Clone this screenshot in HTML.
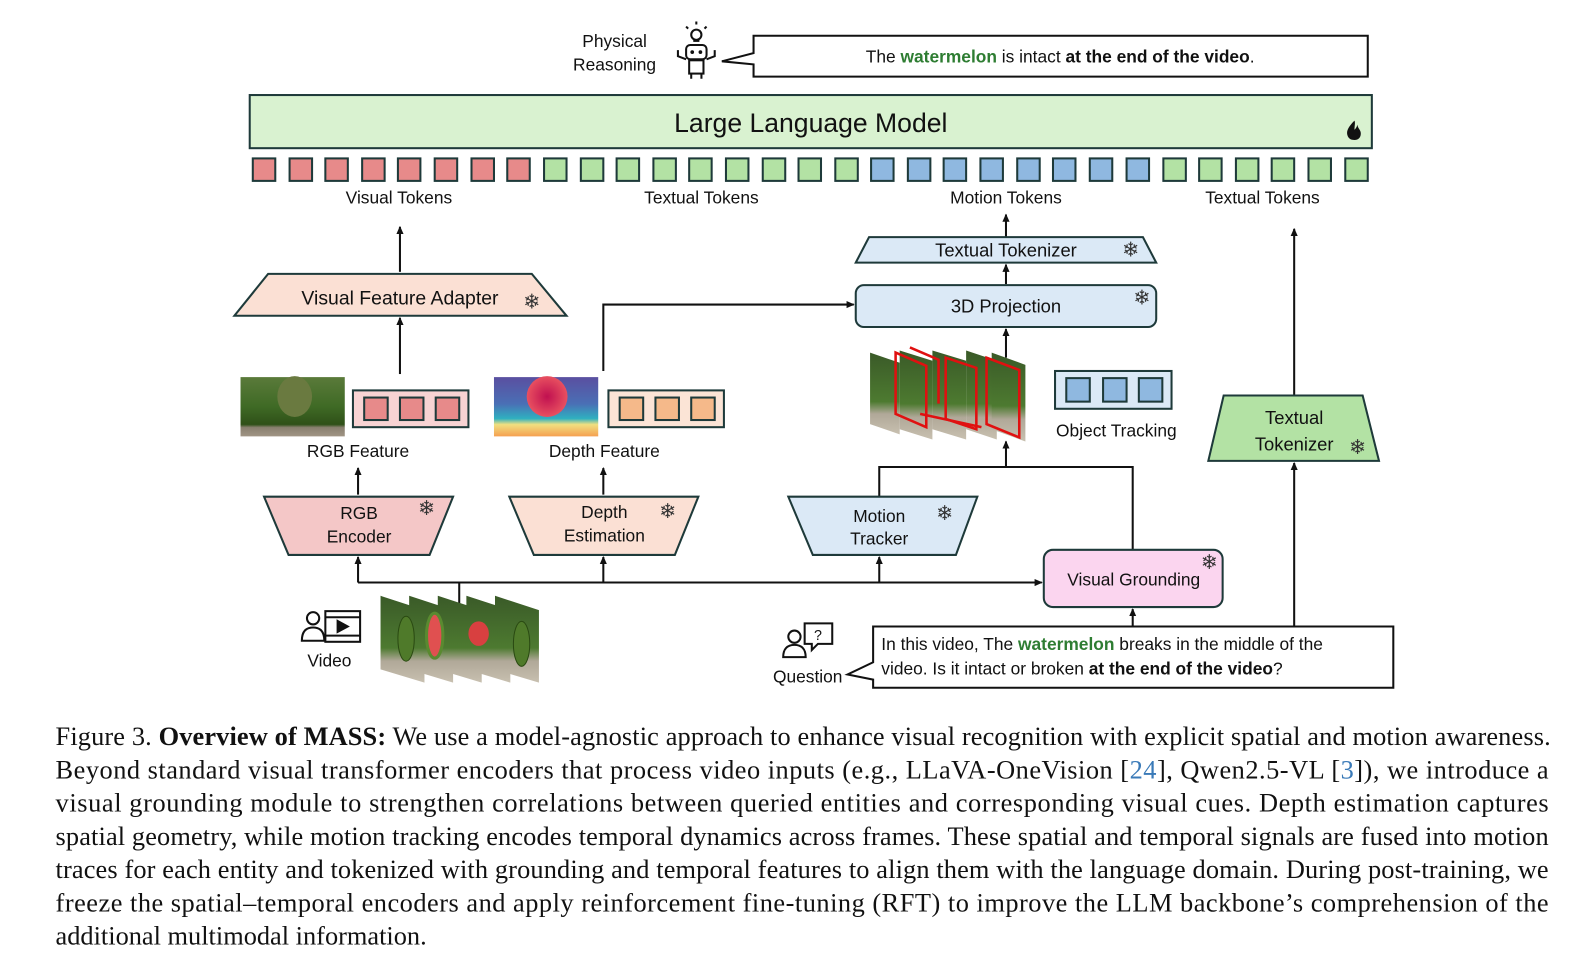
<!DOCTYPE html>
<html><head><meta charset="utf-8"><style>
html,body{margin:0;padding:0;background:#fff;width:1595px;height:977px;overflow:hidden}
svg{display:block}
.s{font-family:"Liberation Sans","DejaVu Sans",sans-serif;fill:#111}
.c{font-family:"Liberation Serif",serif;font-size:25.8px;fill:#111}
.sf{font-family:"DejaVu Sans",sans-serif;font-size:20px;fill:#333}
</style></head><body>
<svg width="1595" height="977" viewBox="0 0 1560 956" xmlns="http://www.w3.org/2000/svg">
<defs>
<marker id="a" markerWidth="8" markerHeight="8" refX="7" refY="4" orient="auto" markerUnits="userSpaceOnUse"><path d="M0,0.5 L8,4 L0,7.5z" fill="#111"/></marker>
<linearGradient id="grass" x1="0" y1="0" x2="0" y2="1"><stop offset="0" stop-color="#5a7a3a"/><stop offset="0.5" stop-color="#3f6a25"/><stop offset="0.8" stop-color="#2f5018"/><stop offset="0.85" stop-color="#8a8070"/><stop offset="1" stop-color="#a09585"/></linearGradient>
<linearGradient id="depth" x1="0" y1="0" x2="0" y2="1"><stop offset="0" stop-color="#5a4fa0"/><stop offset="0.45" stop-color="#4a6fb5"/><stop offset="0.7" stop-color="#2fb0c0"/><stop offset="0.8" stop-color="#f0e080"/><stop offset="1" stop-color="#f5a050"/></linearGradient>
<radialGradient id="ball"><stop offset="0" stop-color="#c01050"/><stop offset="1" stop-color="#e85060"/></radialGradient>
<linearGradient id="frm" x1="0" y1="0" x2="0" y2="1"><stop offset="0" stop-color="#3a5a28"/><stop offset="0.6" stop-color="#4d7a30"/><stop offset="0.75" stop-color="#b0a898"/><stop offset="1" stop-color="#c8c0b0"/></linearGradient>
</defs>

<text class="s" x="601" y="46" font-size="17" text-anchor="middle">Physical</text>
<text class="s" x="601" y="69" font-size="17" text-anchor="middle">Reasoning</text>
<g stroke="#111" stroke-width="2" fill="none">
<circle cx="681" cy="34" r="5"/><path d="M678,40h6"/><path d="M681,24v-3M673,28l-2,-2M689,28l2,-2"/>
<rect x="671" y="44" width="20" height="14" rx="4"/><rect x="674" y="59" width="14" height="13"/><path d="M671,58l-8,-3v-6M691,58l8,-3v-6M676,72v5M686,72v5"/>
</g>
<circle cx="677" cy="51" r="1.8" fill="#111"/><circle cx="685" cy="51" r="1.8" fill="#111"/>
<path d="M737,35 H1338 V75 H737 V63 L706,60 L737,52 Z" fill="#fff" stroke="#111" stroke-width="2"/>
<text class="s" x="1037" y="61" font-size="17" text-anchor="middle">The <tspan fill="#2e7d32" font-weight="bold">watermelon</tspan> is intact <tspan font-weight="bold">at the end of the video</tspan>.</text>

<rect x="244" y="93" width="1098" height="52" fill="#d9f2d0" stroke="#1e3a3a" stroke-width="2"/>
<text class="s" x="793" y="129" font-size="26" text-anchor="middle">Large Language Model</text>
<path d="M1325,118 c-6,6 -8,10 -7,14 c1,4 4,5 7,5 c4,0 7,-3 6,-8 c-1,-3 -3,-4 -3,-7 c-1,3 -2,4 -3,5 c0,-4 1,-7 0,-9z" fill="#111"/>

<g stroke="#1e3a3a" stroke-width="2">
<g fill="#e78a8a">
<rect x="247" y="155" width="22" height="22"/><rect x="283" y="155" width="22" height="22"/><rect x="318" y="155" width="22" height="22"/><rect x="354" y="155" width="22" height="22"/><rect x="389" y="155" width="22" height="22"/><rect x="425" y="155" width="22" height="22"/><rect x="461" y="155" width="22" height="22"/><rect x="496" y="155" width="22" height="22"/>
</g>
<g fill="#b3e2a4">
<rect x="532" y="155" width="22" height="22"/><rect x="568" y="155" width="22" height="22"/><rect x="603" y="155" width="22" height="22"/><rect x="639" y="155" width="22" height="22"/><rect x="674" y="155" width="22" height="22"/><rect x="710" y="155" width="22" height="22"/><rect x="746" y="155" width="22" height="22"/><rect x="781" y="155" width="22" height="22"/><rect x="817" y="155" width="22" height="22"/>
</g>
<g fill="#8fb8e0">
<rect x="852" y="155" width="22" height="22"/><rect x="888" y="155" width="22" height="22"/><rect x="923" y="155" width="22" height="22"/><rect x="959" y="155" width="22" height="22"/><rect x="995" y="155" width="22" height="22"/><rect x="1030" y="155" width="22" height="22"/><rect x="1066" y="155" width="22" height="22"/><rect x="1102" y="155" width="22" height="22"/>
</g>
<g fill="#b3e2a4">
<rect x="1138" y="155" width="22" height="22"/><rect x="1173" y="155" width="22" height="22"/><rect x="1209" y="155" width="22" height="22"/><rect x="1244" y="155" width="22" height="22"/><rect x="1280" y="155" width="22" height="22"/><rect x="1316" y="155" width="22" height="22"/>
</g>
</g>
<g class="s" font-size="17" text-anchor="middle">
<text x="390" y="199">Visual Tokens</text><text x="686" y="199">Textual Tokens</text><text x="984" y="199">Motion Tokens</text><text x="1235" y="199">Textual Tokens</text>
</g>

<g stroke="#111" stroke-width="2" fill="none" marker-end="url(#a)">
<path d="M391,266 V222"/>
<path d="M391,366 V311"/>
<path d="M350,484 V458"/>
<path d="M590,484 V458"/>
<path d="M590,363 V298 H835"/>
<path d="M984,278 V259"/>
<path d="M984,232 V210"/>
<path d="M984,350 V322"/>
<path d="M984,457 V432"/>
<path d="M1266,387 V224"/>
<path d="M1266,612 V453"/>
<path d="M350,570 V545"/>
<path d="M590,570 V545"/>
<path d="M860,570 V545"/>
<path d="M350,570 H1019"/>
<path d="M1108,613 V596"/>
</g>
<g stroke="#111" stroke-width="2" fill="none">
<path d="M860,486 V457 H1108 V538"/>
<path d="M449,570 V598"/>
</g>

<path d="M262,268 H520 L554,309 H229 Z" fill="#fbe0d4" stroke="#1e3a3a" stroke-width="2"/>
<text class="s" x="391" y="298" font-size="19" text-anchor="middle">Visual Feature Adapter</text>
<text class="sf" x="520" y="302" text-anchor="middle">❄</text>

<rect x="235" y="369" width="102" height="58" fill="url(#grass)"/>
<ellipse cx="288" cy="388" rx="17" ry="20" fill="#6a7a40"/>
<rect x="345" y="382" width="113" height="36" fill="#f7d3d3" stroke="#1e3a3a" stroke-width="2"/>
<g fill="#e78a8a" stroke="#1e3a3a" stroke-width="2"><rect x="356" y="389" width="23" height="22"/><rect x="391" y="389" width="23" height="22"/><rect x="426" y="389" width="23" height="22"/></g>
<text class="s" x="350" y="447" font-size="17" text-anchor="middle">RGB Feature</text>

<rect x="483" y="369" width="102" height="58" fill="url(#depth)"/>
<circle cx="535" cy="388" r="20" fill="url(#ball)"/>
<rect x="595" y="382" width="113" height="36" fill="#fbe4d6" stroke="#1e3a3a" stroke-width="2"/>
<g fill="#f5b98a" stroke="#1e3a3a" stroke-width="2"><rect x="606" y="389" width="23" height="22"/><rect x="641" y="389" width="23" height="22"/><rect x="676" y="389" width="23" height="22"/></g>
<text class="s" x="591" y="447" font-size="17" text-anchor="middle">Depth Feature</text>

<path d="M258,486 H443 L420,543 H282 Z" fill="#f4c7c7" stroke="#1e3a3a" stroke-width="2"/>
<text class="s" x="351" y="508" font-size="17" text-anchor="middle">RGB</text>
<text class="s" x="351" y="531" font-size="17" text-anchor="middle">Encoder</text>
<text class="sf" x="417" y="504" text-anchor="middle">❄</text>
<path d="M498,486 H683 L660,543 H522 Z" fill="#fbe0d4" stroke="#1e3a3a" stroke-width="2"/>
<text class="s" x="591" y="507" font-size="17" text-anchor="middle">Depth</text>
<text class="s" x="591" y="530" font-size="17" text-anchor="middle">Estimation</text>
<text class="sf" x="653" y="507" text-anchor="middle">❄</text>
<path d="M771,486 H956 L935,543 H795 Z" fill="#dbe9f6" stroke="#1e3a3a" stroke-width="2"/>
<text class="s" x="860" y="511" font-size="17" text-anchor="middle">Motion</text>
<text class="s" x="860" y="533" font-size="17" text-anchor="middle">Tracker</text>
<text class="sf" x="924" y="509" text-anchor="middle">❄</text>

<path d="M850,232 H1118 L1131,257 H837 Z" fill="#dbe9f6" stroke="#1e3a3a" stroke-width="2"/>
<text class="s" x="984" y="251" font-size="18" text-anchor="middle">Textual Tokenizer</text>
<text class="sf" x="1106" y="251" text-anchor="middle">❄</text>
<rect x="837" y="279" width="294" height="41" rx="8" fill="#dbe9f6" stroke="#1e3a3a" stroke-width="2"/>
<text class="s" x="984" y="306" font-size="18" text-anchor="middle">3D Projection</text>
<text class="sf" x="1117" y="298" text-anchor="middle">❄</text>

<g>
<path d="M851,345 L880,355 V425 L851,415Z" fill="url(#frm)"/>
<path d="M880,343 L912,353 V430 L880,420Z" fill="url(#frm)"/>
<path d="M912,343 L945,353 V430 L912,420Z" fill="url(#frm)"/>
<path d="M945,343 L975,353 V430 L945,420Z" fill="url(#frm)"/>
<path d="M970,345 L1003,357 V432 L970,420Z" fill="url(#frm)"/>
<g fill="none" stroke="#e01010" stroke-width="2.5">
<path d="M876,345 L906,358 V418 L876,405Z"/><path d="M890,340 L918,352 V395"/><path d="M925,350 L955,360 V420 L925,410Z"/><path d="M965,350 L997,362 V428 L965,415Z"/><path d="M900,405 L960,418"/>
</g>
</g>

<rect x="1032" y="363" width="114" height="37" fill="#dbe9f6" stroke="#1e3a3a" stroke-width="2"/>
<g fill="#8fb8e0" stroke="#1e3a3a" stroke-width="2"><rect x="1043" y="370" width="23" height="23"/><rect x="1079" y="370" width="23" height="23"/><rect x="1114" y="370" width="23" height="23"/></g>
<text class="s" x="1092" y="427" font-size="17" text-anchor="middle">Object Tracking</text>

<path d="M1197,387 H1333 L1349,451 H1182 Z" fill="#b3e2a4" stroke="#1e3a3a" stroke-width="2"/>
<text class="s" x="1266" y="415" font-size="18" text-anchor="middle">Textual</text>
<text class="s" x="1266" y="441" font-size="18" text-anchor="middle">Tokenizer</text>
<text class="sf" x="1328" y="444" text-anchor="middle">❄</text>

<rect x="1021" y="538" width="175" height="56" rx="9" fill="#fbd5ef" stroke="#1e3a3a" stroke-width="2"/>
<text class="s" x="1109" y="573" font-size="17" text-anchor="middle">Visual Grounding</text>
<text class="sf" x="1183" y="557" text-anchor="middle">❄</text>

<g stroke="#111" stroke-width="2" fill="none">
<circle cx="306" cy="605" r="6"/><path d="M295,627 c0,-9 4,-13 11,-13 c7,0 11,4 11,13z"/>
<rect x="318" y="598" width="34" height="30"/><path d="M318,604h34M318,622h34"/>
</g>
<path d="M329,606 L342,613 L329,620Z" fill="#111"/>
<text class="s" x="322" y="652" font-size="17" text-anchor="middle">Video</text>
<g>
<path d="M372,583 L415,597 V668 L372,655Z" fill="url(#frm)"/>
<path d="M400,583 L443,597 V668 L400,655Z" fill="url(#frm)"/>
<path d="M428,583 L471,597 V668 L428,655Z" fill="url(#frm)"/>
<path d="M456,583 L499,597 V668 L456,655Z" fill="url(#frm)"/>
<path d="M484,583 L527,597 V668 L484,655Z" fill="url(#frm)"/>
<ellipse cx="397" cy="625" rx="8" ry="22" fill="#4f7a2a" stroke="#2a4a12"/>
<ellipse cx="425" cy="622" rx="8" ry="22" fill="#e05050" stroke="#5a8a30" stroke-width="3"/>
<ellipse cx="468" cy="620" rx="10" ry="12" fill="#d84040"/>
<ellipse cx="510" cy="630" rx="8" ry="22" fill="#4f7a2a" stroke="#2a4a12"/>
</g>

<g stroke="#111" stroke-width="2" fill="none">
<circle cx="777" cy="623" r="6"/><path d="M766,643 c0,-8 4,-12 11,-12 c7,0 11,4 11,12z"/>
<path d="M787,610 h27 v20 h-14 l-6,6 v-6 h-7z"/>
</g>
<text class="s" x="800" y="626" font-size="14" text-anchor="middle">?</text>
<text class="s" x="790" y="668" font-size="17" text-anchor="middle">Question</text>
<path d="M854,613 H1363 V673 H854 V665 L829,660 L854,648 Z" fill="#fff" stroke="#111" stroke-width="2"/>
<text class="s" x="862" y="636" font-size="17">In this video, The <tspan fill="#2e7d32" font-weight="bold">watermelon</tspan> breaks in the middle of the</text>
<text class="s" x="862" y="660" font-size="17">video. Is it intact or broken <tspan font-weight="bold">at the end of the video</tspan>?</text>

<g class="c">
<text x="54" y="729" textLength="1463" lengthAdjust="spacing">Figure 3. <tspan font-weight="bold">Overview of MASS:</tspan> We use a model-agnostic approach to enhance visual recognition with explicit spatial and motion awareness.</text>
<text x="54" y="762" textLength="1461" lengthAdjust="spacing">Beyond standard visual transformer encoders that process video inputs (e.g., LLaVA-OneVision [<tspan fill="#3a7ab8">24</tspan>], Qwen2.5-VL [<tspan fill="#3a7ab8">3</tspan>]), we introduce a</text>
<text x="54" y="794" textLength="1461" lengthAdjust="spacing">visual grounding module to strengthen correlations between queried entities and corresponding visual cues. Depth estimation captures</text>
<text x="54" y="827" textLength="1461" lengthAdjust="spacing">spatial geometry, while motion tracking encodes temporal dynamics across frames. These spatial and temporal signals are fused into motion</text>
<text x="54" y="859" textLength="1461" lengthAdjust="spacing">traces for each entity and tokenized with grounding and temporal features to align them with the language domain. During post-training, we</text>
<text x="54" y="892" textLength="1461" lengthAdjust="spacing">freeze the spatial–temporal encoders and apply reinforcement fine-tuning (RFT) to improve the LLM backbone’s comprehension of the</text>
<text x="54" y="924">additional multimodal information.</text>
</g>
</svg>
</body></html>
